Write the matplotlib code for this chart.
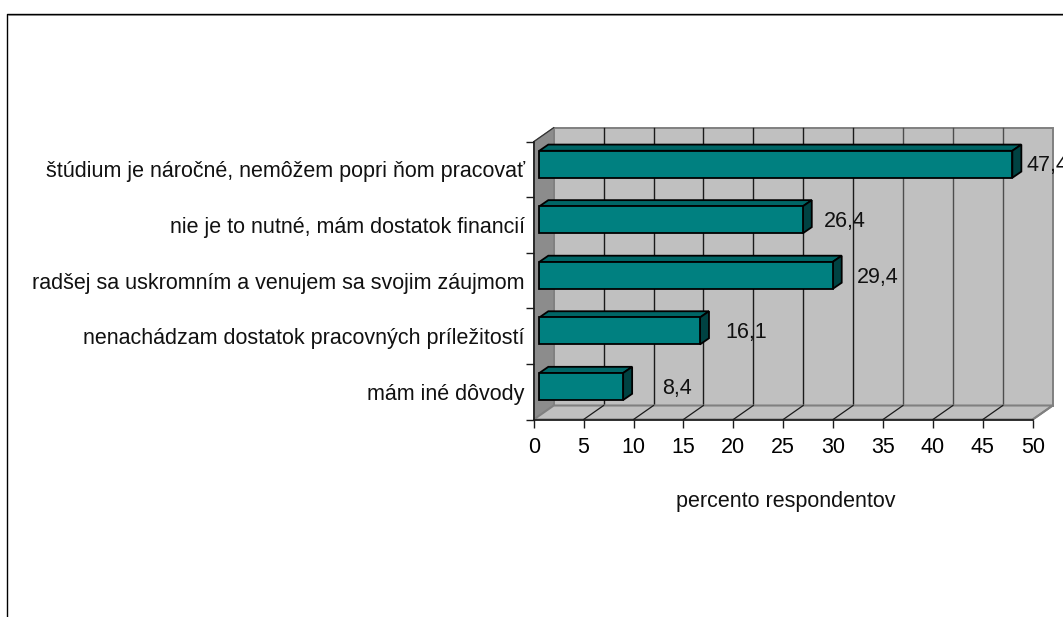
import matplotlib
matplotlib.use("Agg")
import matplotlib.pyplot as plt
from matplotlib.patches import Polygon
from matplotlib.lines import Line2D

plt.rcParams['font.family'] = ['Liberation Sans', 'DejaVu Sans']

categories = ["štúdium je náročné, nemôžem popri ňom pracovať",
              "nie je to nutné, mám dostatok financií",
              "radšej sa uskromním a venujem sa svojim záujmom",
              "nenachádzam dostatok pracovných príležitostí",
              "mám iné dôvody"]
values = [47.4, 26.4, 29.4, 16.1, 8.4]
value_labels = ["47,4", "26,4", "29,4", "16,1", "8,4"]
x_ticks = list(range(0, 55, 5))
x_title = "percento respondentov"

W, H = 1063, 617
L, R, T, B = 533.7, 1032.7, 141.7, 419.5
FS = 15.5
label_gaps = [5, 12, 15, 16, 30]   # pixels from bar end to its label
fig = plt.figure(figsize=(W / 100, H / 100), dpi=100, facecolor='white')
ax = fig.add_axes([L / W, 1 - B / H, (R - L) / W, (B - T) / H])
ax.set_xlim(0, 50)
ax.set_ylim(len(categories) - 0.5, -0.5)
ax.patch.set_visible(False)

px = 50 / (R - L)
py = len(categories) / (B - T)
WX, WY = 20 * px, 14 * py     # depth of the wall
OX, OY = 5.6 * px, 5.2 * py   # bar offset from the front plane
DX, DY = 9 * px, 6.2 * py     # depth of a bar
BH = 27 * py
ymin, ymax = -0.5, len(categories) - 0.5
GR = '#808080'; WL = '#c0c0c0'
EK = dict(clip_on=False)

# wall, side, floor
ax.add_patch(Polygon([(WX, ymin - WY), (50 + WX, ymin - WY), (50 + WX, ymax - WY), (WX, ymax - WY)],
                     fc=WL, ec=GR, lw=1.4, zorder=1, **EK))
ax.add_patch(Polygon([(0, ymin), (WX, ymin - WY), (WX, ymax - WY), (0, ymax)],
                     fc='#8c8c8c', ec=GR, lw=0.8, zorder=1.2, **EK))

# gridlines on wall and floor
for t in x_ticks[1:-1]:
    c = '#1a1a1a' if t <= 30 else '#4d4d4d'
    ax.add_line(Line2D([t + WX, t + WX], [ymin - WY, ymax - WY], color=c, lw=1.0, zorder=1.1, **EK))
ax.add_patch(Polygon([(0, ymax), (50, ymax), (50 + WX, ymax - WY), (WX, ymax - WY)],
                     fc=WL, ec=GR, lw=1.5, zorder=1.3, **EK))
for t in x_ticks[1:-1]:
    ax.add_line(Line2D([t, t + WX], [ymax, ymax - WY], color='#1a1a1a', lw=0.9, zorder=1.5, **EK))
ax.add_line(Line2D([0, WX], [ymin, ymin - WY], color='#333333', lw=0.9, zorder=1.6, **EK))
ax.add_line(Line2D([50, 50 + WX], [ymax, ymax - WY], color=GR, lw=1.4, zorder=1.6, **EK))

# bars
for i, (v, lab, gap) in enumerate(zip(values, value_labels, label_gaps)):
    x0, x1 = OX, OX + v
    y1 = i - OY + BH / 2
    y0 = i - OY - BH / 2
    ax.add_patch(Polygon([(x0, y0), (x0 + DX, y0 - DY), (x1 + DX, y0 - DY), (x1, y0)],
                         fc='#006666', ec='black', lw=1.3, zorder=3, joinstyle='miter', **EK))
    ax.add_patch(Polygon([(x1, y0), (x1 + DX, y0 - DY), (x1 + DX, y1 - DY), (x1, y1)],
                         fc='#004242', ec='black', lw=1.3, zorder=3, joinstyle='miter', **EK))
    ax.add_patch(Polygon([(x0, y0), (x1, y0), (x1, y1), (x0, y1)],
                         fc='#008080', ec='black', lw=1.3, zorder=4, joinstyle='miter', **EK))
    ax.annotate(lab, xy=(x1 + DX, i), xytext=(gap, 3.5), textcoords='offset pixels',
                ha='left', va='center', fontsize=FS, color='#111111', zorder=5,
                annotation_clip=False)

# axes
for s in ('top', 'right'):
    ax.spines[s].set_visible(False)
for s in ('left', 'bottom'):
    ax.spines[s].set_color('#1a1a1a')
    ax.spines[s].set_linewidth(1.2)
    ax.spines[s].set_zorder(2)
ax.set_xticks(x_ticks)
ax.set_xticklabels([str(t) for t in x_ticks], fontsize=FS)
ax.tick_params(axis='x', length=5.8, width=1.0, pad=7, color='#1a1a1a')
ax.set_yticks([i - 0.5 for i in range(len(categories) + 1)])
ax.set_yticklabels([''] * (len(categories) + 1))
ax.set_yticks(range(len(categories)), minor=True)
ax.set_yticklabels(categories, minor=True, fontsize=FS, color='#111111')
ax.tick_params(axis='y', which='major', length=6, width=1.0, color='#1a1a1a')
ax.tick_params(axis='y', which='minor', length=0, pad=6.5)
ax.set_xlabel(x_title, fontsize=FS, labelpad=23.5, color='#111111')
ax.xaxis.label.set_x(0.505)

# outer chart border
fig.add_artist(Line2D([7.3 / W, 7.3 / W, 1], [0, 1 - 13.8 / H, 1 - 13.8 / H], color='black', lw=1.0))
fig.add_artist(Line2D([8 / W, 1], [1 - 15 / H, 1 - 15 / H], color='#808080', lw=0.7))

fig.savefig('out.png', dpi=100)
